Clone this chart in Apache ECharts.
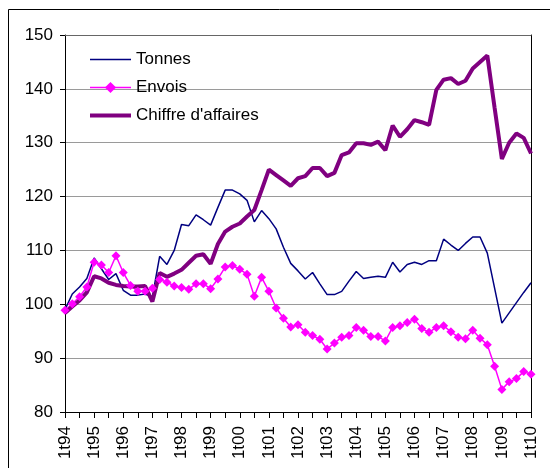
<!DOCTYPE html>
<html>
<head>
<meta charset="utf-8">
<script src="https://cdn.jsdelivr.net/npm/echarts@6/dist/echarts.min.js"></script>
<style>
html,body{margin:0;padding:0;background:#fff;}
#chart{width:550px;height:468px;}
</style>
</head>
<body>
<div id="chart"></div>
<script>
var years = ['94','95','96','97','98','99','00','01','02','03','04','05','06','07','08','09','10'];
var quarters = ['1','2','3','4'];

var tonnes = [99.0,101.9,103.2,104.8,108.6,106.6,104.6,105.7,102.6,101.7,101.7,101.9,101.4,108.9,107.4,110.0,
  114.8,114.6,116.6,115.7,114.7,118.0,121.2,121.2,120.5,119.3,115.3,117.4,115.9,114.0,110.6,107.6,
  106.2,104.7,105.9,103.8,101.8,101.8,102.4,104.3,106.1,104.8,105.0,105.2,105.0,107.8,106.0,107.4,
  107.8,107.4,108.1,108.1,112.1,111.0,110.0,111.3,112.5,112.5,109.5,103.0,96.5,98.4,100.3,102.2,104.0];

var envois = [98.9,100.1,101.4,103.2,107.8,107.3,105.9,109.0,105.9,103.5,102.4,102.4,103.0,104.6,104.1,103.4,
  103.1,102.8,103.8,103.8,102.9,104.7,106.9,107.2,106.5,105.6,101.5,105.0,102.4,99.3,97.4,95.8,
  96.2,94.8,94.2,93.5,91.7,92.8,93.9,94.2,95.7,95.2,94.0,94.0,93.2,95.7,96.0,96.6,
  97.2,95.5,94.8,95.7,96.0,94.9,93.9,93.6,95.2,93.7,92.5,88.5,84.2,85.6,86.2,87.5,87.0];

var chiffre = [98.4,99.6,100.7,102.2,105.2,104.8,104.0,103.6,103.4,103.3,103.3,103.4,100.5,105.8,105.1,105.7,
  106.4,107.7,109.0,109.3,107.5,111.2,113.5,114.4,115.0,116.3,117.5,121.2,125.0,124.0,123.0,122.0,
  123.4,123.8,125.3,125.3,123.8,124.4,127.7,128.2,129.9,129.9,129.6,130.2,128.6,133.2,131.1,132.5,
  134.2,133.8,133.3,139.8,141.7,142.0,140.9,141.5,143.8,145.0,146.2,136.5,127.0,130.0,131.7,130.9,128.0];

var seriesNames = ['Tonnes', 'Envois', "Chiffre d'affaires"];

var categories = [];
years.forEach(function (y, yi) {
  quarters.forEach(function (q) {
    if (yi < years.length - 1 || q === '1') categories.push(q + 't' + y);
  });
});

var FONT = 'Arial, "Liberation Sans", sans-serif';
var chart = echarts.init(document.getElementById('chart'), null, {renderer: 'canvas'});
chart.setOption({
  animation: false,
  backgroundColor: '#fff',
  graphic: [{
    type: 'rect', silent: true,
    shape: {x: 8.5, y: 9.5, width: 600, height: 500},
    style: {fill: 'none', stroke: '#000', lineWidth: 1}
  }],
  grid: {left: 65, right: 19, top: 35, bottom: 56, containLabel: false},
  legend: {
    orient: 'vertical',
    left: 83, top: 46,
    itemWidth: 41, itemHeight: 14, itemGap: 11,
    textStyle: {fontFamily: FONT, fontSize: 17, color: '#000'},
    data: [
      {name: seriesNames[0], itemStyle: {color: 'rgba(0,0,0,0)', borderWidth: 0}, lineStyle: {width: 1.5}},
      {name: seriesNames[1], lineStyle: {width: 1.5}},
      {name: seriesNames[2], itemStyle: {color: 'rgba(0,0,0,0)', borderWidth: 0}, lineStyle: {width: 4}}
    ]
  },
  xAxis: [{
    type: 'category',
    data: categories,
    boundaryGap: false,
    axisLine: {show: true, lineStyle: {color: '#000', width: 1}},
    axisTick: {show: true, interval: 1, length: 6, inside: false, lineStyle: {color: '#000'}},
    axisLabel: {interval: 3, rotate: 90, margin: 14, fontFamily: FONT, fontSize: 17, color: '#000'},
    splitLine: {show: false}
  }, {
    type: 'category',
    data: categories,
    boundaryGap: false,
    position: 'top',
    axisLine: {show: true, lineStyle: {color: '#666', width: 1}},
    axisTick: {show: false},
    axisLabel: {show: false}
  }],
  yAxis: [{
    type: 'value',
    min: 80, max: 150, interval: 10,
    axisLine: {show: true, lineStyle: {color: '#000', width: 1}},
    axisTick: {show: true, length: 5, lineStyle: {color: '#000'}},
    axisLabel: {margin: 12, fontFamily: FONT, fontSize: 17, color: '#000'},
    splitLine: {show: true, lineStyle: {color: '#9a9a9a', width: 1}}
  }, {
    type: 'value',
    min: 80, max: 150, interval: 10,
    position: 'right',
    axisLine: {show: true, lineStyle: {color: '#000', width: 1}},
    axisTick: {show: false},
    axisLabel: {show: false},
    splitLine: {show: false}
  }],
  series: [{
    name: seriesNames[0], type: 'line', data: tonnes,
    symbol: 'none', color: '#000080',
    lineStyle: {color: '#000080', width: 1.5}
  }, {
    name: seriesNames[1], type: 'line', data: envois,
    symbol: 'diamond', symbolSize: 9, showAllSymbol: true, color: '#FF00FF',
    itemStyle: {color: '#FF00FF'},
    lineStyle: {color: '#FF00FF', width: 1.5}
  }, {
    name: seriesNames[2], type: 'line', data: chiffre,
    symbol: 'none', color: '#800080',
    lineStyle: {color: '#800080', width: 4}
  }]
});
</script>
</body>
</html>
